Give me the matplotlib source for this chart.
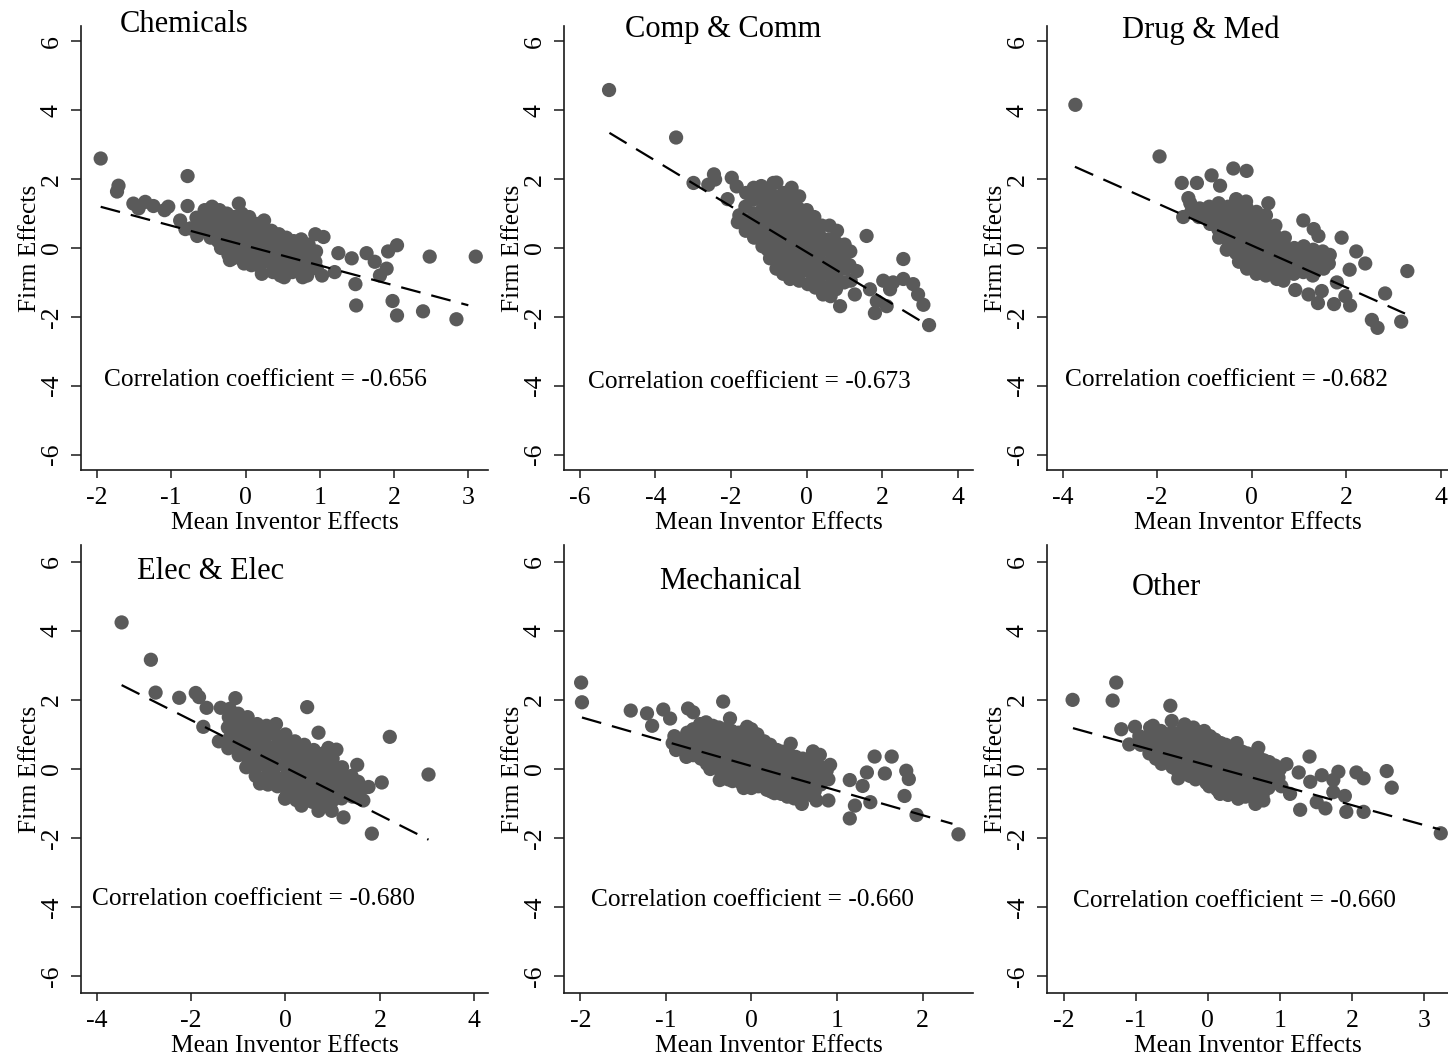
import matplotlib
matplotlib.use("Agg")
import matplotlib.pyplot as plt

plt.rcParams["font.family"] = ["Liberation Serif", "DejaVu Serif"]
plt.rcParams["axes.unicode_minus"] = False

# --- panel names and correlation coefficients ---
industries = ["Chemicals", "Comp & Comm", "Drug & Med",
              "Elec & Elec", "Mechanical", "Other"]
corr_values = [-0.656, -0.673, -0.682, -0.680, -0.660, -0.660]

# fitted line (intercept, slope) and its x span
fit_intercept = [0.07, -0.12, 0.075, 0.04, 0.084, 0.105]
fit_slope = [-0.578, -0.665, -0.611, -0.688, -0.71, -0.576]
fit_x_span = [(-1.95, 3.0), (-5.21, 3.21), (-3.74, 3.24),
              (-3.47, 3.03), (-1.98, 2.35), (-1.87, 3.22)]

x_ticks = [[-2, -1, 0, 1, 2, 3], [-6, -4, -2, 0, 2, 4], [-4, -2, 0, 2, 4],
           [-4, -2, 0, 2, 4], [-2, -1, 0, 1, 2], [-2, -1, 0, 1, 2, 3]]
y_ticks = [-6, -4, -2, 0, 2, 4, 6]

# (mean inventor effect, firm effect)
chem_pts = [
    (-1.95, 2.60), (-1.71, 1.81), (-1.73, 1.64), (-1.51, 1.29), (-1.44, 1.15),
    (-1.35, 1.34), (-1.24, 1.22), (-1.09, 1.10), (-1.04, 1.20), (-0.78, 2.09),
    (-0.78, 1.22), (-0.88, 0.80), (-0.81, 0.55), (-0.65, 0.35), (-0.09, 1.29),
    (0.94, 0.40), (1.05, 0.32), (1.03, -0.80), (1.25, -0.15), (1.20, -0.70),
    (1.43, -0.30), (1.48, -1.05), (1.49, -1.67), (1.63, -0.15), (1.74, -0.40),
    (1.81, -0.80), (1.90, -0.60), (1.92, -0.10), (2.04, 0.08), (1.98, -1.54),
    (2.04, -1.96), (2.39, -1.84), (2.48, -0.25), (2.84, -2.07), (3.10, -0.25),
    (-0.66, 0.88), (-0.63, 0.62), (-0.74, 0.57),
    (-0.55, 1.10), (-0.53, 0.80), (-0.56, 0.50),
    (-0.45, 1.20), (-0.46, 0.90), (-0.44, 0.60), (-0.47, 0.30),
    (-0.35, 1.10), (-0.36, 0.80), (-0.34, 0.50), (-0.37, 0.20), (-0.33, 0.00),
    (-0.25, 1.00), (-0.26, 0.70), (-0.24, 0.40), (-0.27, 0.10), (-0.23, -0.20),
    (-0.21, -0.35), (-0.15, 0.90), (-0.16, 0.60), (-0.14, 0.30), (-0.13, 0.00),
    (-0.17, -0.30), (-0.05, 1.00), (-0.06, 0.70), (-0.04, 0.40), (-0.03, 0.10),
    (-0.07, -0.20), (-0.02, -0.45), (0.05, 0.90), (0.04, 0.60), (0.06, 0.30),
    (0.03, 0.00), (0.07, -0.30), (0.08, -0.50), (0.15, 0.70), (0.14, 0.40),
    (0.16, 0.10), (0.13, -0.20), (0.17, -0.50), (0.25, 0.80), (0.24, 0.50),
    (0.26, 0.20), (0.23, -0.10), (0.27, -0.40), (0.22, -0.75), (0.35, 0.50),
    (0.34, 0.20), (0.36, -0.10), (0.33, -0.40), (0.37, -0.70), (0.45, 0.40),
    (0.44, 0.10), (0.46, -0.20), (0.43, -0.50), (0.47, -0.80), (0.55, 0.30),
    (0.54, 0.00), (0.56, -0.30), (0.53, -0.60), (0.52, -0.85), (0.65, 0.20),
    (0.64, -0.10), (0.66, -0.40), (0.63, -0.70), (0.75, 0.25), (0.74, -0.05),
    (0.76, -0.35), (0.73, -0.65), (0.77, -0.85), (0.85, 0.10), (0.84, -0.20),
    (0.86, -0.50), (0.83, -0.80), (0.95, -0.10), (0.94, -0.40), (0.96, -0.60),
]

comp_pts = [
    (-5.22, 4.59), (-3.45, 3.21), (-2.99, 1.89), (-2.60, 1.84), (-2.45, 2.14),
    (-2.42, 1.99), (-1.98, 2.04), (-1.85, 1.79), (-2.09, 1.42), (-0.88, 1.89),
    (1.58, 0.35), (2.55, -0.32), (1.32, -0.67), (1.27, -1.35), (0.88, -1.69),
    (1.67, -1.20), (1.80, -1.89), (1.85, -1.55), (2.02, -0.95), (2.11, -1.69),
    (2.20, -1.20), (2.28, -1.00), (2.55, -0.90), (2.81, -1.05), (2.94, -1.35),
    (3.08, -1.65), (3.23, -2.24),
    (-1.82, 0.75), (-1.78, 0.95),
    (-1.60, 1.60), (-1.62, 1.20), (-1.58, 0.80), (-1.61, 0.50),
    (-1.40, 1.75), (-1.42, 1.40), (-1.38, 1.00), (-1.41, 0.60), (-1.39, 0.30),
    (-1.20, 1.80), (-1.22, 1.45), (-1.18, 1.10), (-1.21, 0.75), (-1.19, 0.40),
    (-1.17, 0.05), (-1.00, 1.70), (-1.02, 1.35), (-0.98, 1.00), (-1.01, 0.65),
    (-0.99, 0.30), (-1.03, -0.05), (-0.97, -0.30), (-0.80, 1.90), (-0.82, 1.50),
    (-0.78, 1.15), (-0.81, 0.80), (-0.79, 0.45), (-0.83, 0.10), (-0.77, -0.25),
    (-0.80, -0.60), (-0.60, 1.60), (-0.62, 1.25), (-0.58, 0.90), (-0.61, 0.55),
    (-0.59, 0.20), (-0.63, -0.15), (-0.57, -0.50), (-0.62, -0.75), (-0.40, 1.75),
    (-0.42, 1.40), (-0.38, 1.05), (-0.41, 0.70), (-0.39, 0.35), (-0.43, 0.00),
    (-0.37, -0.35), (-0.40, -0.70), (-0.44, -0.90), (-0.20, 1.50), (-0.22, 1.15),
    (-0.18, 0.80), (-0.21, 0.45), (-0.19, 0.10), (-0.23, -0.25), (-0.17, -0.60),
    (-0.20, -0.95), (0.00, 1.10), (-0.02, 0.75), (0.02, 0.40), (-0.01, 0.05),
    (0.01, -0.30), (-0.03, -0.65), (0.03, -1.05), (0.20, 0.90), (0.18, 0.55),
    (0.22, 0.20), (0.19, -0.15), (0.21, -0.50), (0.17, -0.85), (0.23, -1.15),
    (0.40, 0.65), (0.38, 0.30), (0.42, -0.05), (0.39, -0.40), (0.41, -0.75),
    (0.37, -1.10), (0.43, -1.35), (0.60, 0.65), (0.58, 0.25), (0.62, -0.10),
    (0.59, -0.45), (0.61, -0.80), (0.57, -1.15), (0.63, -1.40), (0.80, 0.50),
    (0.78, 0.15), (0.82, -0.20), (0.79, -0.55), (0.81, -0.90), (0.77, -1.20),
    (1.00, 0.10), (0.98, -0.25), (1.02, -0.60), (0.99, -1.00), (1.15, -0.10),
    (1.13, -0.50), (1.16, -0.95),
]

drug_pts = [
    (-3.73, 4.16), (-1.95, 2.66), (-1.48, 1.89), (-1.16, 1.89), (-0.85, 2.11),
    (-0.67, 1.81), (-0.39, 2.31), (-0.11, 2.24), (-1.45, 0.90), (-1.34, 1.45),
    (1.09, 0.80), (1.31, 0.55), (1.41, 0.35), (1.90, 0.30), (2.21, -0.10),
    (2.40, -0.45), (2.07, -0.63), (3.29, -0.67), (1.80, -1.00), (1.98, -1.40),
    (2.08, -1.67), (1.74, -1.63), (1.40, -1.60), (1.48, -1.25), (1.20, -1.35),
    (0.92, -1.22), (2.82, -1.32), (2.54, -2.09), (2.66, -2.32), (3.16, -2.14),
    (0.35, 1.30), (-0.33, 1.42), (-0.12, 1.35),
    (-1.30, 1.30), (-1.28, 1.05), (-1.10, 1.15), (-1.12, 0.90),
    (-0.90, 1.20), (-0.92, 0.95), (-0.88, 0.70),
    (-0.70, 1.30), (-0.72, 1.05), (-0.68, 0.80), (-0.71, 0.55), (-0.69, 0.30),
    (-0.50, 1.20), (-0.52, 0.95), (-0.48, 0.70), (-0.51, 0.45), (-0.49, 0.20),
    (-0.53, -0.05), (-0.30, 1.10), (-0.32, 0.85), (-0.28, 0.60), (-0.31, 0.35),
    (-0.29, 0.10), (-0.33, -0.15), (-0.27, -0.40), (-0.10, 1.15), (-0.12, 0.90),
    (-0.08, 0.65), (-0.11, 0.40), (-0.09, 0.15), (-0.13, -0.10), (-0.07, -0.35),
    (-0.10, -0.60), (0.10, 1.05), (0.08, 0.80), (0.12, 0.55), (0.09, 0.30),
    (0.11, 0.05), (0.07, -0.20), (0.13, -0.45), (0.10, -0.75), (0.30, 0.95),
    (0.28, 0.70), (0.32, 0.45), (0.29, 0.20), (0.31, -0.05), (0.27, -0.30),
    (0.33, -0.55), (0.30, -0.80), (0.50, 0.65), (0.48, 0.40), (0.52, 0.15),
    (0.49, -0.10), (0.51, -0.35), (0.47, -0.60), (0.53, -0.90), (0.70, 0.30),
    (0.68, 0.05), (0.72, -0.20), (0.69, -0.45), (0.71, -0.70), (0.67, -0.95),
    (0.90, 0.00), (0.88, -0.25), (0.92, -0.50), (0.89, -0.75), (1.10, 0.05),
    (1.08, -0.20), (1.12, -0.45), (1.09, -0.70), (1.30, -0.05), (1.28, -0.30),
    (1.32, -0.55), (1.29, -0.80), (1.50, -0.10), (1.48, -0.35), (1.52, -0.60),
    (1.65, -0.20), (1.63, -0.45),
]

elec_pts = [
    (-3.47, 4.24), (-2.85, 3.16), (-2.75, 2.21), (-2.25, 2.06), (-1.90, 2.20),
    (-1.83, 2.08), (-1.67, 1.77), (-1.37, 1.77), (-1.18, 1.74), (-1.06, 2.05),
    (-1.74, 1.22), (-1.41, 0.80), (0.46, 1.79), (0.70, 1.05), (2.21, 0.93),
    (3.03, -0.16), (2.04, -0.39), (1.52, 0.12), (1.83, -1.87), (1.23, -1.40),
    (1.54, -0.37), (1.76, -0.52), (1.65, -0.91), (1.08, 0.56), (0.91, 0.61),
    (-0.54, -0.42), (-0.01, -0.86), (0.34, -1.06), (0.70, -1.21), (0.98, -1.21),
    (-1.20, 1.50), (-1.22, 1.20), (-1.18, 0.90), (-1.21, 0.60),
    (-1.00, 1.60), (-1.02, 1.30), (-0.98, 1.00), (-1.01, 0.70), (-0.99, 0.40),
    (-0.80, 1.50), (-0.82, 1.20), (-0.78, 0.90), (-0.81, 0.60), (-0.79, 0.30),
    (-0.83, 0.05), (-0.60, 1.30), (-0.62, 1.00), (-0.58, 0.70), (-0.61, 0.40),
    (-0.59, 0.10), (-0.63, -0.20), (-0.40, 1.25), (-0.42, 0.95), (-0.38, 0.65),
    (-0.41, 0.35), (-0.39, 0.05), (-0.43, -0.25), (-0.37, -0.45), (-0.20, 1.30),
    (-0.22, 1.00), (-0.18, 0.70), (-0.21, 0.40), (-0.19, 0.10), (-0.23, -0.20),
    (-0.17, -0.50), (0.00, 1.00), (-0.02, 0.70), (0.02, 0.40), (-0.01, 0.10),
    (0.01, -0.20), (-0.03, -0.50), (0.03, -0.75), (0.20, 0.80), (0.18, 0.50),
    (0.22, 0.20), (0.19, -0.10), (0.21, -0.40), (0.17, -0.70), (0.23, -0.90),
    (0.40, 0.70), (0.38, 0.40), (0.42, 0.10), (0.39, -0.20), (0.41, -0.50),
    (0.37, -0.80), (0.60, 0.55), (0.58, 0.25), (0.62, -0.05), (0.59, -0.35),
    (0.61, -0.65), (0.57, -0.95), (0.80, 0.45), (0.78, 0.15), (0.82, -0.15),
    (0.79, -0.45), (0.81, -0.75), (0.77, -1.05), (1.00, 0.30), (0.98, 0.00),
    (1.02, -0.30), (0.99, -0.60), (1.01, -0.90), (1.20, 0.05), (1.18, -0.25),
    (1.22, -0.55), (1.19, -0.85), (1.40, -0.20), (1.38, -0.50), (1.42, -0.80),
    (1.60, -0.60),
]

mech_pts = [
    (-1.99, 2.50), (-1.98, 1.93), (-1.41, 1.69), (-1.22, 1.61), (-1.16, 1.25),
    (-1.03, 1.72), (-0.95, 1.46), (-0.74, 1.75), (-0.68, 1.64), (-0.33, 1.95),
    (-0.25, 1.46), (-0.05, 1.22), (0.46, 0.73), (0.72, 0.51), (0.80, 0.41),
    (0.92, 0.12), (1.15, -0.32), (1.15, -1.43), (1.30, -0.49), (1.39, -0.96),
    (1.21, -1.06), (1.44, 0.36), (1.35, -0.10), (1.56, -0.13), (1.64, 0.36),
    (1.81, -0.05), (1.84, -0.29), (1.79, -0.78), (1.93, -1.33), (2.42, -1.89),
    (0.76, -0.91), (0.90, -0.91), (0.59, -1.01), (-0.37, -0.32),
    (-0.90, 0.95), (-0.92, 0.75), (-0.88, 0.55),
    (-0.75, 1.05), (-0.77, 0.80), (-0.73, 0.55), (-0.76, 0.35),
    (-0.60, 1.30), (-0.62, 1.05), (-0.58, 0.80), (-0.61, 0.55), (-0.59, 0.30),
    (-0.45, 1.25), (-0.47, 1.00), (-0.43, 0.75), (-0.46, 0.50), (-0.44, 0.25),
    (-0.48, 0.00), (-0.30, 1.15), (-0.32, 0.90), (-0.28, 0.65), (-0.31, 0.40),
    (-0.29, 0.15), (-0.33, -0.10), (-0.27, -0.30), (-0.15, 1.05), (-0.17, 0.80),
    (-0.13, 0.55), (-0.16, 0.30), (-0.14, 0.05), (-0.18, -0.20), (-0.12, -0.40),
    (0.00, 1.15), (-0.02, 0.90), (0.02, 0.65), (-0.01, 0.40), (0.01, 0.15),
    (-0.03, -0.10), (0.03, -0.35), (0.00, -0.55), (0.15, 0.80), (0.13, 0.55),
    (0.17, 0.30), (0.14, 0.05), (0.16, -0.20), (0.12, -0.45), (0.18, -0.60),
    (0.30, 0.55), (0.28, 0.30), (0.32, 0.05), (0.29, -0.20), (0.31, -0.45),
    (0.27, -0.70), (0.45, 0.40), (0.43, 0.15), (0.47, -0.10), (0.44, -0.35),
    (0.46, -0.60), (0.42, -0.80), (0.60, 0.30), (0.58, 0.05), (0.62, -0.20),
    (0.59, -0.45), (0.61, -0.70), (0.75, 0.10), (0.73, -0.15), (0.77, -0.40),
    (0.74, -0.65), (0.88, -0.05), (0.90, -0.30),
    (-0.83, 0.85), (-0.84, 0.60), (-0.68, 1.15), (-0.67, 0.90), (-0.69, 0.65),
    (-0.68, 0.40), (-0.53, 1.35), (-0.54, 1.10), (-0.52, 0.85), (-0.53, 0.60),
    (-0.55, 0.35), (-0.52, 0.15), (-0.38, 1.20), (-0.39, 0.95), (-0.37, 0.70),
    (-0.38, 0.45), (-0.40, 0.20), (-0.36, -0.05), (-0.23, 1.10), (-0.22, 0.85),
    (-0.24, 0.60), (-0.23, 0.35), (-0.21, 0.10), (-0.25, -0.15), (-0.22, -0.35),
    (-0.08, 1.10), (-0.07, 0.85), (-0.09, 0.60), (-0.08, 0.35), (-0.06, 0.10),
    (-0.10, -0.15), (-0.07, -0.40), (-0.09, -0.55), (0.07, 1.00), (0.08, 0.75),
    (0.06, 0.50), (0.07, 0.25), (0.09, 0.00), (0.05, -0.25), (0.08, -0.50),
    (0.22, 0.70), (0.23, 0.45), (0.21, 0.20), (0.22, -0.05), (0.24, -0.30),
    (0.20, -0.55), (0.23, -0.65), (0.37, 0.50), (0.38, 0.25), (0.36, 0.00),
    (0.37, -0.25), (0.39, -0.50), (0.35, -0.72), (0.52, 0.35), (0.53, 0.10),
    (0.51, -0.15), (0.52, -0.40), (0.54, -0.65), (0.50, -0.85), (0.67, 0.20),
    (0.68, -0.05), (0.66, -0.30), (0.67, -0.55), (0.69, -0.75), (0.82, 0.05),
    (0.83, -0.20), (0.81, -0.45),
]

other_pts = [
    (-1.875, 2.00), (-1.32, 1.98), (-1.27, 2.50), (-0.52, 1.83), (-0.50, 1.39),
    (-0.32, 1.29), (-1.20, 1.15), (-1.01, 1.22), (-1.09, 0.71), (-0.76, 1.25),
    (0.70, 0.61), (0.40, 0.75), (1.09, 0.14), (1.26, -0.10), (1.41, 0.36),
    (1.42, -0.37), (1.58, -0.18), (1.74, -0.32), (1.81, -0.08), (2.06, -0.10),
    (2.16, -0.27), (2.48, -0.06), (2.55, -0.54), (1.74, -0.67), (1.90, -0.78),
    (1.51, -0.96), (1.63, -1.14), (1.28, -1.18), (1.92, -1.24), (2.16, -1.24),
    (3.23, -1.86), (1.14, -0.72), (0.77, -0.91), (0.66, -1.01), (0.42, -0.86),
    (0.17, -0.72), (-0.41, -0.27),
    (-0.95, 0.95), (-0.93, 0.70),
    (-0.80, 1.20), (-0.82, 0.95), (-0.78, 0.70), (-0.81, 0.45),
    (-0.65, 1.10), (-0.67, 0.85), (-0.63, 0.60), (-0.66, 0.35), (-0.64, 0.15),
    (-0.50, 1.05), (-0.52, 0.80), (-0.48, 0.55), (-0.51, 0.30), (-0.49, 0.05),
    (-0.35, 1.15), (-0.37, 0.90), (-0.33, 0.65), (-0.36, 0.40), (-0.34, 0.15),
    (-0.38, -0.10), (-0.20, 1.20), (-0.22, 0.95), (-0.18, 0.70), (-0.21, 0.45),
    (-0.19, 0.20), (-0.23, -0.05), (-0.17, -0.30), (-0.05, 1.10), (-0.07, 0.85),
    (-0.03, 0.60), (-0.06, 0.35), (-0.04, 0.10), (-0.08, -0.15), (-0.02, -0.40),
    (0.10, 0.85), (0.08, 0.60), (0.12, 0.35), (0.09, 0.10), (0.11, -0.15),
    (0.07, -0.40), (0.13, -0.60), (0.25, 0.70), (0.23, 0.45), (0.27, 0.20),
    (0.24, -0.05), (0.26, -0.30), (0.22, -0.55), (0.28, -0.75), (0.40, 0.55),
    (0.38, 0.30), (0.42, 0.05), (0.39, -0.20), (0.41, -0.45), (0.37, -0.70),
    (0.55, 0.45), (0.53, 0.20), (0.57, -0.05), (0.54, -0.30), (0.56, -0.55),
    (0.52, -0.80), (0.70, 0.35), (0.68, 0.10), (0.72, -0.15), (0.69, -0.40),
    (0.71, -0.65), (0.85, 0.20), (0.83, -0.05), (0.87, -0.30), (0.84, -0.55),
    (1.00, 0.00), (0.98, -0.25), (1.02, -0.50),
    (-0.72, 1.00), (-0.73, 0.75), (-0.71, 0.50), (-0.72, 0.30), (-0.57, 0.95),
    (-0.58, 0.70), (-0.56, 0.45), (-0.57, 0.20), (-0.42, 1.00), (-0.43, 0.75),
    (-0.41, 0.50), (-0.42, 0.25), (-0.44, 0.00), (-0.27, 1.05), (-0.28, 0.80),
    (-0.26, 0.55), (-0.27, 0.30), (-0.29, 0.05), (-0.25, -0.20), (-0.12, 1.00),
    (-0.13, 0.75), (-0.11, 0.50), (-0.12, 0.25), (-0.14, 0.00), (-0.10, -0.25),
    (0.03, 0.95), (0.02, 0.70), (0.04, 0.45), (0.03, 0.20), (0.01, -0.05),
    (0.05, -0.30), (0.02, -0.50), (0.18, 0.75), (0.17, 0.50), (0.19, 0.25),
    (0.18, 0.00), (0.16, -0.25), (0.20, -0.50), (0.17, -0.70), (0.33, 0.60),
    (0.32, 0.35), (0.34, 0.10), (0.33, -0.15), (0.31, -0.40), (0.35, -0.65),
    (0.48, 0.50), (0.47, 0.25), (0.49, 0.00), (0.48, -0.25), (0.46, -0.50),
    (0.50, -0.75), (0.63, 0.40), (0.62, 0.15), (0.64, -0.10), (0.63, -0.35),
    (0.61, -0.60), (0.65, -0.85), (0.78, 0.25), (0.77, 0.00), (0.79, -0.25),
    (0.78, -0.50), (0.76, -0.75), (0.93, 0.10), (0.92, -0.15), (0.94, -0.40),
]

panel_points = [chem_pts, comp_pts, drug_pts, elec_pts, mech_pts, other_pts]

# --- layout (pixel measurements of the reference, 1448 x 1062) ---
W, H = 1448, 1062
col_px = [(81, 488), (564, 973), (1047, 1448), (81, 488), (564, 973), (1047, 1448)]
row_px = [(26, 470)] * 3 + [(545, 993)] * 3
x_limits = [(-2.215, 3.265), (-6.41, 4.39), (-4.33, 4.15),
            (-4.33, 4.29), (-2.19, 2.59), (-2.23, 3.33)]
y_limits = [(-6.45, 6.45)] * 3 + [(-6.48, 6.48)] * 3

title_pos = [(-0.82, 6.49), (-2.2, 6.35), (-1.07, 6.32),
             (-1.58, 5.72), (-0.25, 5.42), (-0.57, 5.25)]
corr_pos = [(-1.91, -3.83), (-5.77, -3.89), (-3.95, -3.83),
            (-4.1, -3.77), (-1.88, -3.80), (-1.87, -3.83)]

dot_color = "#5a5a5a"
axis_color = "#1a1a1a"

fig = plt.figure(figsize=(W / 100, H / 100), dpi=100)

for i, name in enumerate(industries):
    (x0, x1), (y0, y1) = col_px[i], row_px[i]
    ax = fig.add_axes([x0 / W, (H - y1) / H, (x1 - x0) / W, (y1 - y0) / H])
    ax.patch.set_alpha(0)

    xs = [p[0] for p in panel_points[i]]
    ys = [p[1] for p in panel_points[i]]
    ax.scatter(xs, ys, s=105, color=dot_color, edgecolors="none", zorder=2,
               clip_on=False)

    lo, hi = fit_x_span[i]
    ax.plot([lo, hi],
            [fit_intercept[i] + fit_slope[i] * lo, fit_intercept[i] + fit_slope[i] * hi],
            color="black", linewidth=1.6, dashes=(9, 5), zorder=3)

    ax.set_xlim(*x_limits[i])
    ax.set_ylim(*y_limits[i])
    ax.set_xticks(x_ticks[i])
    ax.set_yticks(y_ticks)
    ax.set_yticklabels([str(t) for t in y_ticks], rotation=90, va="center")

    for side in ("top", "right"):
        ax.spines[side].set_visible(False)
    for side in ("left", "bottom"):
        ax.spines[side].set_color(axis_color)
        ax.spines[side].set_linewidth(1.2)
    ax.tick_params(axis="both", colors=axis_color, labelcolor="black",
                   width=1.1, labelsize=18.5)
    ax.tick_params(axis="y", length=7, pad=6)
    ax.tick_params(axis="x", length=5.5, pad=7)

    ax.set_xlabel("Mean Inventor Effects", fontsize=18.3, labelpad=2)
    ax.set_ylabel("Firm Effects", fontsize=18.3, labelpad=0)

    tx, ty = title_pos[i]
    ax.text(tx, ty, name, fontsize=22, ha="center", va="center", clip_on=False)
    cx, cy = corr_pos[i]
    ax.text(cx, cy, f"Correlation coefficient = {corr_values[i]:.3f}",
            fontsize=18.3, ha="left", va="center")

fig.savefig("out.png", dpi=100)
